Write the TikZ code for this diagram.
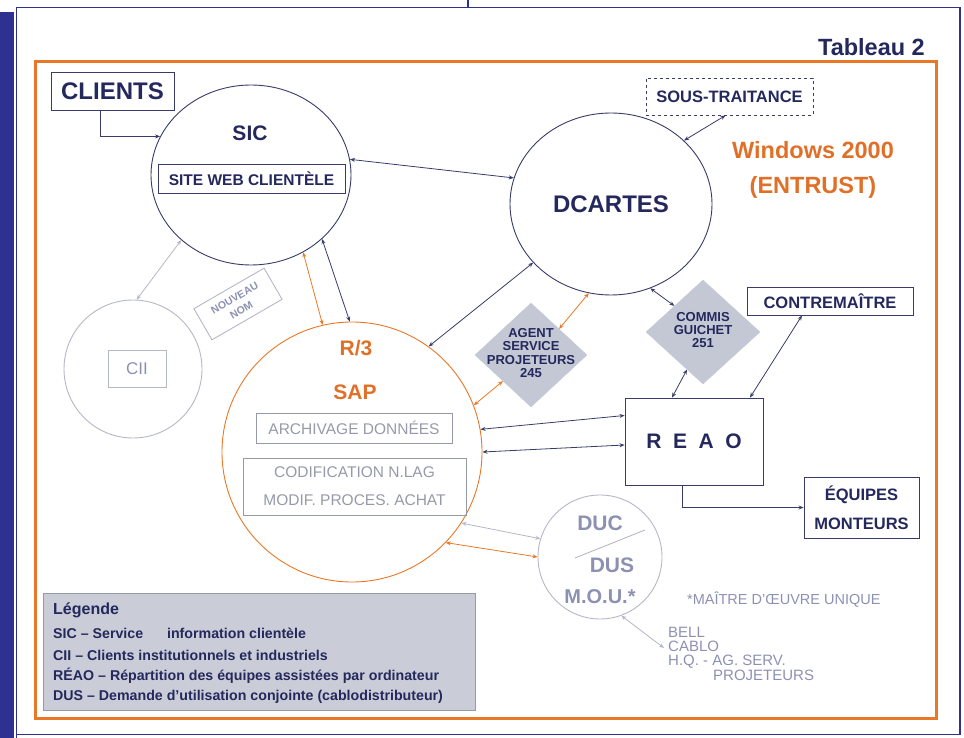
\documentclass[tikz,border=0pt]{standalone}
\usepackage{fontspec}
\setmainfont{Liberation Sans}
\usetikzlibrary{shapes.geometric,arrows.meta,calc}
\definecolor{framenavy}{RGB}{46,49,146}
\definecolor{textnavy}{RGB}{36,40,92}
\definecolor{linenavy}{RGB}{55,60,105}
\definecolor{orangec}{RGB}{232,120,40}
\definecolor{ortext}{RGB}{224,112,40}
\definecolor{diamgray}{RGB}{196,200,212}
\definecolor{legfill}{RGB}{202,205,215}
\definecolor{lightline}{RGB}{180,183,200}
\definecolor{lighttext}{RGB}{140,145,178}
\definecolor{midgray}{RGB}{150,153,168}
\begin{document}
\begin{tikzpicture}[x=1pt,y=-1pt,
  >={Stealth[length=5pt,width=4pt]},
  bx/.style={draw=linenavy, line width=0.9pt, inner sep=0pt, text=textnavy},
  lbl/.style={inner sep=0pt, text=textnavy},
  bi/.style={<->, line width=0.8pt},
  one/.style={->, line width=0.8pt},
  diam/.style={diamond, fill=diamgray, draw=diamgray, inner sep=0pt},
  f/.style={font=\bfseries\fontsize{#1}{#1}\selectfont},
  fr/.style={font=\fontsize{#1}{#1}\selectfont}
]
\useasboundingbox (0,0) rectangle (964,738);
% page frame
\fill[framenavy] (0,12) rectangle (14,738);
\draw[framenavy, line width=1.6pt] (16.5,738) -- (16.5,7.5) -- (960,7.5) -- (960,734.5) -- (16.5,734.5);
\draw[framenavy, line width=1.4pt] (468,0) -- (468,7.5);
% orange frame
\draw[orangec, line width=3pt] (35,62) rectangle (936,718);
\node[lbl, f=23.5, anchor=east] (tab) at (925,47) {Tableau 2};

% nodes
\node[bx, minimum width=123pt, minimum height=38pt, f=24] (clients) at (112.5,91) {CLIENTS};
\node[ellipse, draw=linenavy, line width=0.9pt, minimum width=200pt, minimum height=180pt, inner sep=0pt] (sic) at (251,175) {};
\node[lbl, f=21] (siclbl) at (250,133) {SIC};
\node[bx, minimum width=187pt, minimum height=29pt, f=15.5] (web) at (251.5,178.5) {SITE WEB CLIENTÈLE};

\node[bx, dashed, minimum width=167pt, minimum height=37pt, f=16.5] (sous) at (729.5,96.5) {SOUS-TRAITANCE};
\node[ellipse, draw=linenavy, line width=0.9pt, minimum width=202pt, minimum height=182pt, inner sep=0pt, text=textnavy, f=24] (dcartes) at (611,204) {DCARTES};
\node[lbl, text=ortext, f=23.5] (win) at (813,150) {Windows 2000};
\node[lbl, text=ortext, f=23.5] (entrust) at (813,187) {(ENTRUST)};

\node[draw=lightline, line width=0.9pt, rotate=30, minimum width=81pt, minimum height=36pt, inner sep=0pt, text=lighttext, align=center, font=\bfseries\fontsize{10.5}{13.5}\selectfont] (nouveau) at (238,304) {NOUVEAU\\NOM};

\node[circle, draw=lightline, line width=0.9pt, minimum size=138pt, inner sep=0pt] (cii) at (133,369) {};
\node[draw=lightline, line width=0.9pt, minimum width=58pt, minimum height=37pt, inner sep=0pt, text=lighttext, fr=17] (ciibox) at (137,368.5) {CII};

\node[circle, draw=orangec, line width=0.9pt, minimum size=260pt, inner sep=0pt] (r3) at (352,452) {};
\node[lbl, text=ortext, f=21] (r3lbl) at (356,348) {R/3};
\node[lbl, text=ortext, f=21] (saplbl) at (355,392) {SAP};
\node[draw=midgray, line width=0.9pt, minimum width=196pt, minimum height=30pt, inner sep=0pt, text=midgray, fr=15.5] (archiv) at (354,428) {ARCHIVAGE DONNÉES};
\node[draw=midgray, line width=0.9pt, minimum width=223pt, minimum height=57pt, inner sep=0pt, text=midgray, align=center, font=\fontsize{15.5}{28}\selectfont] (codif) at (354.5,486.5) {CODIFICATION N.LAG\\MODIF. PROCES. ACHAT};

\node[diam, minimum width=112pt, minimum height=104pt] (agent) at (531,355) {};
\node[lbl, align=center, font=\bfseries\fontsize{13}{13.5}\selectfont] (agentlbl) at (531,353) {AGENT\\SERVICE\\PROJETEURS\\245};
\node[diam, minimum width=114pt, minimum height=104pt] (commis) at (703,332) {};
\node[lbl, align=center, font=\bfseries\fontsize{13}{12.8}\selectfont] (commislbl) at (703,330) {COMMIS\\GUICHET\\251};

\node[bx, minimum width=166pt, minimum height=28pt, f=16.5] (contre) at (830,301) {CONTREMAÎTRE};
\node[bx, minimum width=138pt, minimum height=87pt, f=21] (reao) at (694,441.5) {R\hspace{0.55em}E\hspace{0.55em}A\hspace{0.55em}O};
\node[bx, minimum width=115pt, minimum height=61pt, align=center, font=\bfseries\fontsize{16.5}{29}\selectfont] (equipes) at (861.5,507.5) {ÉQUIPES\\MONTEURS};

\node[circle, draw=lightline, line width=0.9pt, minimum size=124pt, inner sep=0pt] (duc) at (600,557) {};
\node[lbl, text=lighttext, f=21] (duclbl) at (600,523) {DUC};
\node[lbl, text=lighttext, f=21] (duslbl) at (612,565) {DUS};
\node[lbl, text=lighttext, f=20] (moulbl) at (600,597) {M.O.U.*};
\coordinate (slashA) at (575,558);
\coordinate (slashB) at (645,530);
\draw[lightline, line width=0.9pt] (slashA) -- (slashB);

\node[lbl, text=lighttext, fr=14.5, anchor=west] (maitre) at (687,600) {*MAÎTRE D'ŒUVRE UNIQUE};
\node[lbl, text=lighttext, anchor=north west, align=left, font=\fontsize{15}{14.2}\selectfont] (bell) at (668,627) {BELL\\CABLO\\H.Q. - AG. SERV.\\\hspace{45pt}PROJETEURS};
\coordinate (bellin) at (664,648);

% legend
\node[draw=midgray, fill=legfill, line width=0.9pt, minimum width=432pt, minimum height=117pt, inner sep=0pt] (legend) at (259,651.5) {};
\node[lbl, f=16, anchor=west] (leg0) at (53,610) {Légende};
\node[lbl, f=14.2, anchor=west] (leg1) at (53,633) {SIC – Service\hspace{20pt} information clientèle};
\node[lbl, f=14.2, anchor=west] (leg2) at (53,655) {CII – Clients institutionnels et industriels};
\node[lbl, f=14.2, anchor=west] (leg3) at (53,676) {RÉAO – Répartition des équipes assistées par ordinateur};
\node[lbl, f=14.2, anchor=west] (leg4) at (53,697) {DUS – Demande d'utilisation conjointe (cablodistributeur)};

% connectors
\draw[one, linenavy] ([xshift=-12pt]clients.south) |- (sic.157);
\draw[bi, linenavy] (sic.9) -- (dcartes.165);
\draw[bi, orangec] (sic.-56) -- (r3.103);
\draw[bi, linenavy] (sic.-42) -- (r3.91);
\draw[bi, lightline] (sic.-137) -- (cii.87);
\draw[bi, linenavy] ([xshift=-4pt]sous.south) -- (dcartes.41);
\draw[bi, linenavy] (dcartes.-143) -- (r3.54);
\draw[bi, orangec] (dcartes.-104) -- (agent.north east);
\draw[bi, orangec] (agent.south west) -- (r3.21);
\draw[bi, linenavy] (dcartes.-65) -- (commis.north west);
\draw[bi, linenavy] ([xshift=-22pt]reao.north) -- ($(commis.south)!0.28!(commis.west)$);
\draw[bi, linenavy] ([xshift=56pt]reao.north) -- ([xshift=-28pt]contre.south);
\draw[bi, linenavy] (r3.10) -- ([yshift=26pt]reao.west);
\draw[bi, linenavy] (r3.0) -- ([yshift=-3.5pt]reao.west);
\draw[one, linenavy] ([xshift=-12pt]reao.south) |- (equipes.west);
\draw[bi, lightline] (r3.-33) -- (duc.163);
\draw[bi, orangec] (r3.-44) -- (duc.180);
\draw[bi, lightline] (duc.-70) -- (bellin);
\end{tikzpicture}
\end{document}
